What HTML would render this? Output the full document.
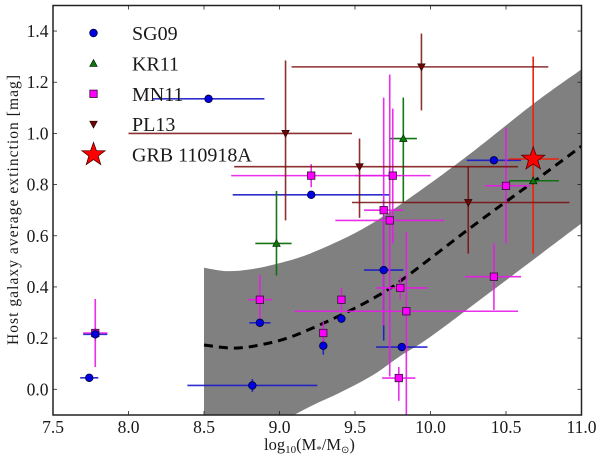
<!DOCTYPE html>
<html>
<head>
<meta charset="utf-8">
<style>
html,body{margin:0;padding:0;background:#fff;width:600px;height:457px;overflow:hidden}
svg{display:block}
text{font-family:"Liberation Serif",serif;fill:#1a1a1a}
</style>
</head>
<body>
<svg id="chart" width="600" height="457" viewBox="0 0 600 457" xmlns="http://www.w3.org/2000/svg">
<defs><clipPath id="plot-clip"><rect x="53" y="5.5" width="528.5" height="409.5"/></clipPath></defs>
<g id="plot" clip-path="url(#plot-clip)"></g>
<g id="frame"></g>
<g id="legend"></g>
<text transform="translate(18,345) rotate(-90)" font-size="15.5" textLength="270" lengthAdjust="spacing">Host galaxy average extinction [mag]</text>
<text x="264" y="450" font-size="16.5">log<tspan font-size="11" dy="3">10</tspan><tspan dy="-3">(M</tspan><tspan font-size="11" dy="3">*</tspan><tspan dy="-3">/M</tspan><tspan font-size="10" dy="3" font-family="DejaVu Sans, sans-serif">⊙</tspan><tspan dy="-3">)</tspan></text>
</svg>
<script>
const xTickLabels = ['7.5','8.0','8.5','9.0','9.5','10.0','10.5','11.0'];
const yTickLabels = ['0.0','0.2','0.4','0.6','0.8','1.0','1.2','1.4'];

const bandUpperX = [8.5,8.65,8.8,8.98,9.2,9.53,9.82,10.24,10.68,11.0];
const bandUpperY = [0.475,0.462,0.468,0.49,0.53,0.62,0.73,0.91,1.115,1.25];
const bandLowerX = [8.5,9.13,9.4,9.62,9.8,10.0,10.39,10.97,11.0];
const bandLowerY = [-0.3,-0.09,-0.013,0.056,0.13,0.205,0.377,0.635,0.65];
const meanX = [8.5,8.69,8.87,9.09,9.42,9.67,9.84,10.24,10.5,10.68,11.0];
const meanY = [0.173,0.161,0.173,0.208,0.294,0.372,0.44,0.62,0.733,0.81,0.95];

const sgX = [8.53,9.21,10.42,7.74,7.78,8.82,8.87,9.29,9.41,9.69,9.81];
const sgY = [1.135,0.76,0.895,0.045,0.215,0.015,0.26,0.17,0.276,0.466,0.165];
const sgXLo = [8.16,8.69,10.24,7.68,7.7,8.39,8.8,9.28,9.4,9.56,9.64];
const sgXHi = [8.9,9.73,10.6,7.8,7.86,9.25,8.94,9.3,9.42,9.82,9.98];
const sgYLo = [1.13,0.755,0.89,0.04,0.19,-0.01,0.25,0.135,0.26,0.19,0.15];
const sgYHi = [1.14,0.765,0.9,0.05,0.24,0.04,0.27,0.2,0.29,0.74,0.18];

const krX = [8.98,9.82,10.68];
const krY = [0.57,0.98,0.815];
const krXLo = [8.84,9.73,10.52];
const krXHi = [9.08,9.91,10.85];
const krYLo = [0.445,0.73,0.78];
const krYHi = [0.775,1.14,0.85];

const mnX = [7.78,8.87,9.21,9.75,9.69,9.73,9.29,9.84,9.41,9.8,9.79,10.42,10.5];
const mnY = [0.22,0.35,0.835,0.835,0.70,0.66,0.22,0.305,0.35,0.396,0.044,0.44,0.795];
const mnXLo = [7.7,8.79,8.68,9.5,9.56,9.37,9.28,9.1,9.4,9.64,9.68,10.23,10.36];
const mnXHi = [7.86,8.95,9.73,10.0,9.82,10.09,9.3,10.58,9.42,9.98,9.9,10.6,10.66];
const mnYLo = [0.087,0.26,0.79,0.57,0.25,0.05,0.17,-0.15,0.3,0.35,-0.045,0.31,0.57];
const mnYHi = [0.353,0.447,0.88,1.097,1.14,1.23,0.263,0.615,0.395,0.44,0.087,0.57,1.02];

const plX = [9.04,9.94,9.53,10.25];
const plY = [1.0,1.26,0.87,0.73];
const plXLo = [8.0,9.08,8.7,9.48];
const plXHi = [9.48,10.78,10.58,10.92];
const plYLo = [0.66,1.09,0.67,0.53];
const plYHi = [1.285,1.39,0.98,0.87];

const grbX = [10.68];
const grbY = [0.9];
const grbXLo = [10.52];
const grbXHi = [10.85];
const grbYLo = [0.53];
const grbYHi = [1.3];

const legendLabels = ['SG09','KR11','MN11','PL13','GRB 110918A'];

const NS = 'http://www.w3.org/2000/svg';
const sx = v => 53 + (v - 7.5) * 151;
const sy = v => 389.3 - v * 255.9;
const plot = document.getElementById('plot');
const frame = document.getElementById('frame');
const legend = document.getElementById('legend');

function make(parent, tag, attrs) {
  const el = document.createElementNS(NS, tag);
  for (const k in attrs) el.setAttribute(k, attrs[k]);
  parent.appendChild(el);
  return el;
}

function smooth(px, py, move) {
  let d = (move ? 'M' : 'L') + px[0].toFixed(1) + ' ' + py[0].toFixed(1);
  for (let i = 0; i < px.length - 1; i++) {
    const a = Math.max(i - 1, 0), b = Math.min(i + 2, px.length - 1);
    const c1x = px[i] + (px[i + 1] - px[a]) / 6, c1y = py[i] + (py[i + 1] - py[a]) / 6;
    const c2x = px[i + 1] - (px[b] - px[i]) / 6, c2y = py[i + 1] - (py[b] - py[i]) / 6;
    d += 'C' + [c1x, c1y, c2x, c2y, px[i + 1], py[i + 1]].map(n => n.toFixed(1)).join(' ');
  }
  return d;
}

const upPath = smooth(bandUpperX.map(sx), bandUpperY.map(sy), true);
const lowPath = smooth(bandLowerX.map(sx).reverse(), bandLowerY.map(sy).reverse(), false);
const band = make(plot, 'path', { d: upPath + lowPath + 'Z', fill: '#808080' });



function marker(parent, kind, cx, cy, color) {
  let el;
  if (kind === 'circle') {
    el = make(parent, 'circle', { cx: cx, cy: cy, r: 3.8, fill: color, stroke: '#00003a', 'stroke-width': 0.8 });
  } else if (kind === 'square') {
    el = make(parent, 'rect', { x: cx - 3.7, y: cy - 3.7, width: 7.4, height: 7.4, fill: color, stroke: '#301030', 'stroke-width': 0.8 });
  } else if (kind === 'up') {
    el = make(parent, 'polygon', { points: [cx, cy - 3.8, cx + 3.7, cy + 3, cx - 3.7, cy + 3].join(' '), fill: color, stroke: '#002000', 'stroke-width': 0.7 });
  } else if (kind === 'down') {
    el = make(parent, 'polygon', { points: [cx, cy + 3.8, cx + 3.7, cy - 3, cx - 3.7, cy - 3].join(' '), fill: color, stroke: '#300000', 'stroke-width': 0.7 });
  } else {
    const pts = [];
    for (let i = 0; i < 10; i++) {
      const r = i % 2 ? 4.9 : 12.2;
      const a = -Math.PI / 2 + i * Math.PI / 5;
      pts.push((cx + r * Math.cos(a)).toFixed(1) + ',' + (cy + r * Math.sin(a)).toFixed(1));
    }
    el = make(parent, 'polygon', { points: pts.join(' '), fill: color, stroke: '#500000', 'stroke-width': 0.8 });
  }
  return el;
}

function drawErrors(name, lineColor, alpha, X, Y, XL, XH, YL, YH) {
  const g = make(plot, 'g', {});
  
  
  X.forEach((x, i) => {
    const h = make(g, 'line', { x1: sx(XL[i]), x2: sx(XH[i]), y1: sy(Y[i]), y2: sy(Y[i]), stroke: lineColor, 'stroke-width': 1.6, 'stroke-opacity': alpha });
    
    
    const v = make(g, 'line', { x1: sx(x), x2: sx(x), y1: sy(YL[i]), y2: sy(YH[i]), stroke: lineColor, 'stroke-width': 1.6, 'stroke-opacity': alpha });
    
    
  });
}

function drawMarkers(name, kind, color, X, Y) {
  const g = make(plot, 'g', {});
  
  
  X.forEach((x, i) => {
    const m = marker(g, kind, sx(x), sy(Y[i]), color);
    
    
  });
}

const meanLine = make(plot, 'path', { d: smooth(meanX.map(sx), meanY.map(sy), true), fill: 'none', stroke: '#000', 'stroke-width': 3, 'stroke-dasharray': '9 6' });



drawErrors('sg09', '#1818c8', 0.9, sgX, sgY, sgXLo, sgXHi, sgYLo, sgYHi);
drawErrors('kr11', '#0a6e0a', 0.95, krX, krY, krXLo, krXHi, krYLo, krYHi);
drawErrors('grb-110918a', '#f02008', 1, grbX, grbY, grbXLo, grbXHi, grbYLo, grbYHi);
drawErrors('mn11', '#e818e8', 0.9, mnX, mnY, mnXLo, mnXHi, mnYLo, mnYHi);
drawErrors('pl13', '#780c0c', 0.85, plX, plY, plXLo, plXHi, plYLo, plYHi);
drawMarkers('mn11', 'square', '#ff00ff', mnX, mnY);
drawMarkers('pl13', 'down', '#6a0808', plX, plY);
drawMarkers('kr11', 'up', '#0a7a0a', krX, krY);
drawMarkers('sg09', 'circle', '#0000e0', sgX, sgY);
drawMarkers('grb-110918a', 'star', '#ff0000', grbX, grbY);

const box = make(frame, 'rect', { x: 53, y: 5.5, width: 528.5, height: 409.5, fill: 'none', stroke: '#222', 'stroke-width': 1.5 });



xTickLabels.forEach(t => {
  const x = sx(parseFloat(t));
  const tb = make(frame, 'line', { x1: x, x2: x, y1: 415, y2: 411, stroke: '#222', 'stroke-width': 0.8 });
  
  
  const tt = make(frame, 'line', { x1: x, x2: x, y1: 5.5, y2: 9.5, stroke: '#222', 'stroke-width': 0.8 });
  
  
  const lab = make(frame, 'text', { x: x, y: 433, 'font-size': 17.5, 'text-anchor': 'middle' });
  lab.textContent = t;
  
  
});

yTickLabels.forEach(t => {
  const y = sy(parseFloat(t));
  const tl = make(frame, 'line', { x1: 53, x2: 57, y1: y, y2: y, stroke: '#222', 'stroke-width': 0.8 });
  
  
  const tr = make(frame, 'line', { x1: 581.5, x2: 577.5, y1: y, y2: y, stroke: '#222', 'stroke-width': 0.8 });
  
  
  const lab = make(frame, 'text', { x: 48.5, y: y + 6, 'font-size': 17.5, 'text-anchor': 'end' });
  lab.textContent = t;
  
  
});

const legendKinds = ['circle', 'up', 'square', 'down', 'star'];
const legendColors = ['#0000e0', '#0a7a0a', '#ff00ff', '#6a0808', '#ff0000'];
legendLabels.forEach((t, i) => {
  const y = 33 + i * 30.4;
  const m = marker(legend, legendKinds[i], 93.5, y, legendColors[i]);
  
  
  const lab = make(legend, 'text', { x: 132, y: y + 7, 'font-size': 20 });
  lab.textContent = t;
  
  
});
</script>
</body>
</html>
